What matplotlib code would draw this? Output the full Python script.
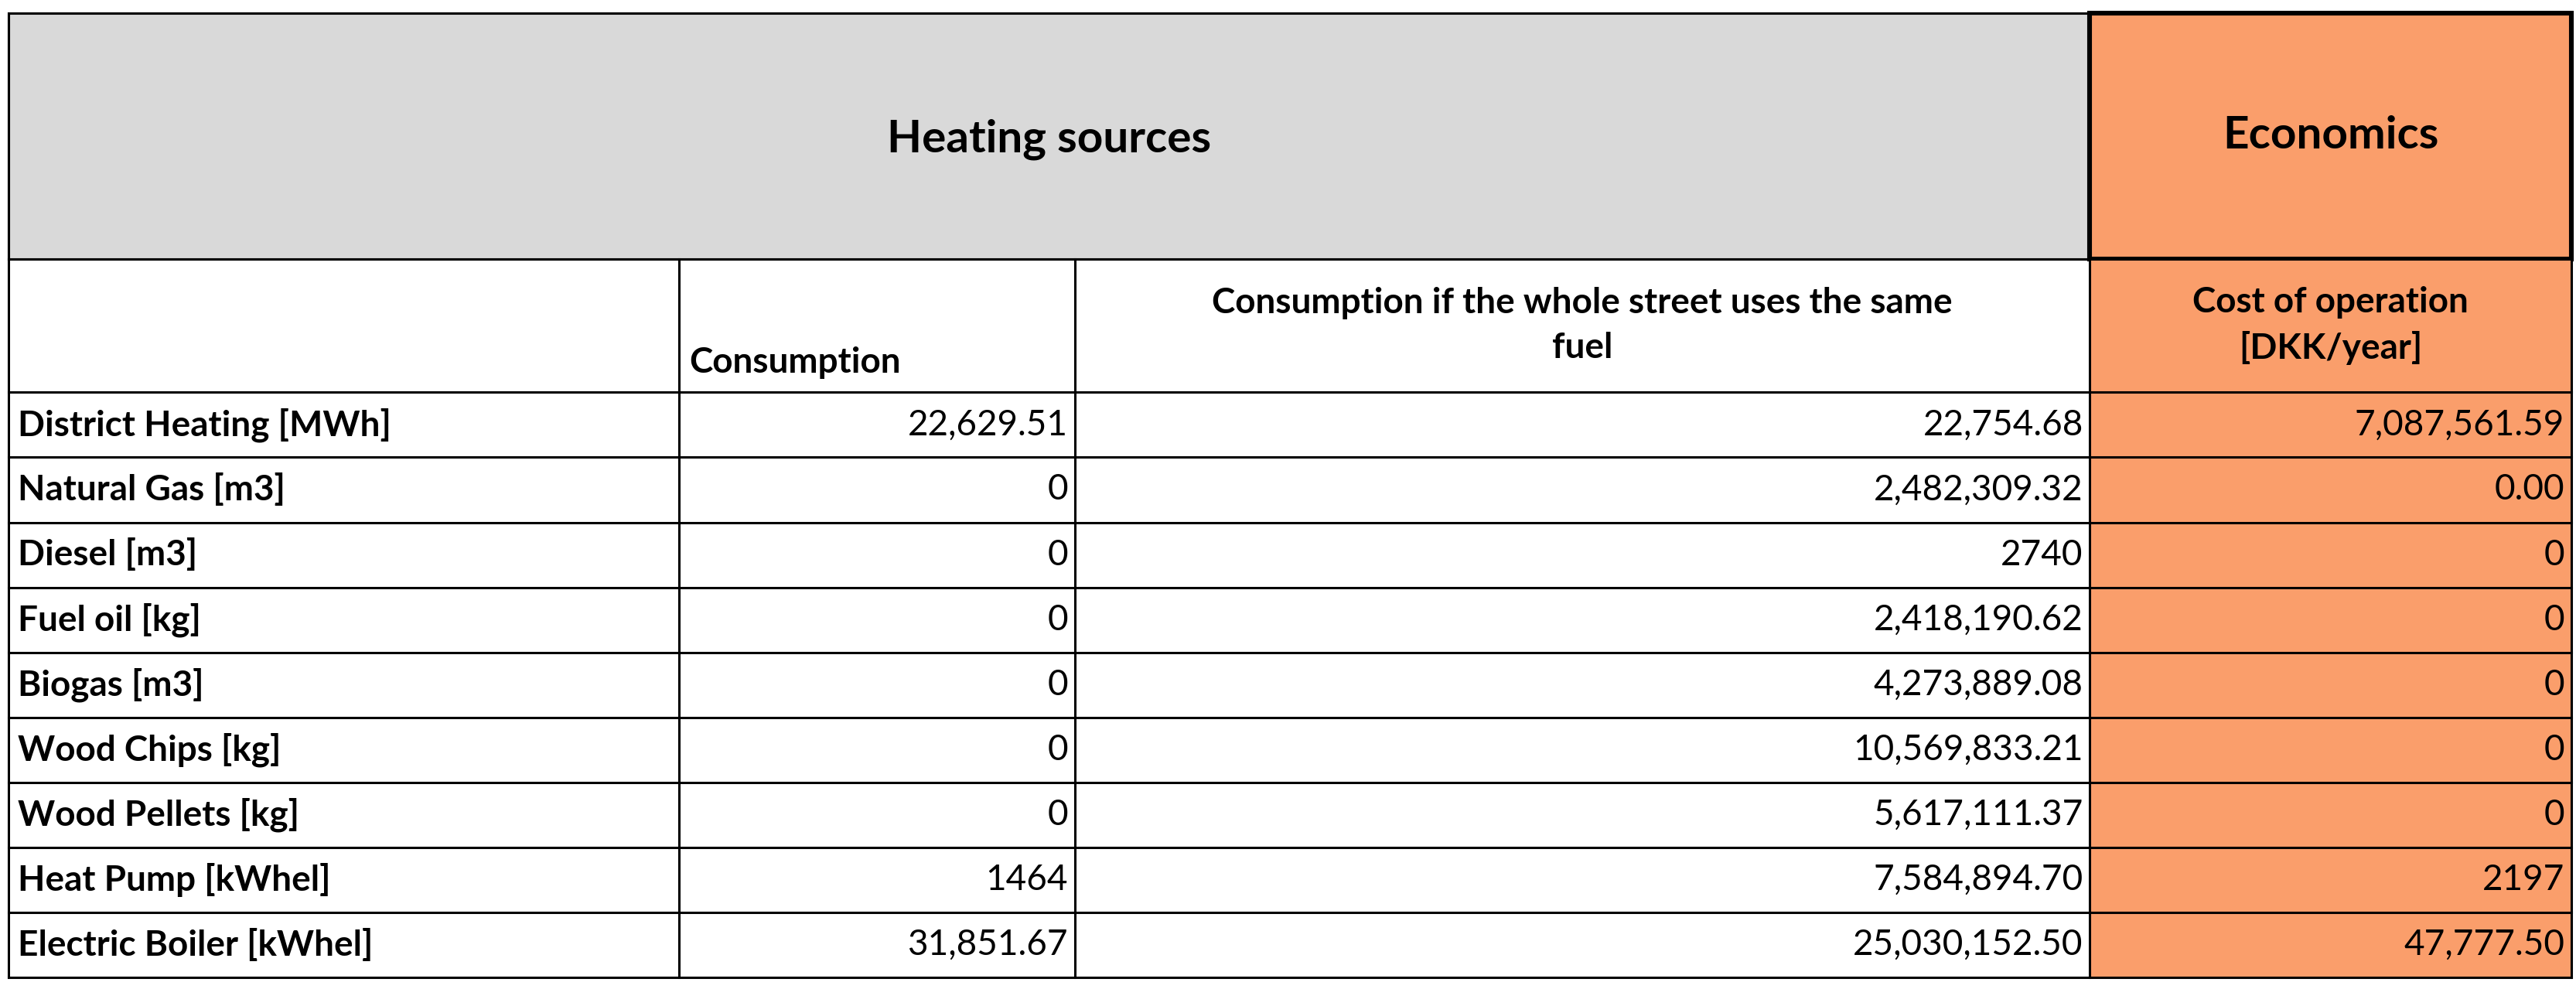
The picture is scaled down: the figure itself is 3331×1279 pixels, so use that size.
import matplotlib
matplotlib.use("Agg")
import matplotlib.pyplot as plt
from matplotlib.patches import Rectangle

plt.rcParams['font.family'] = ['Lato', 'DejaVu Sans']

title_left = "Heating sources"
title_right = "Economics"
col_headers = ["", "Consumption", "Consumption if the whole street uses the same\nfuel", "Cost of operation\n[DKK/year]"]
categories = ["District Heating [MWh]", "Natural Gas [m3]", "Diesel [m3]", "Fuel oil [kg]",
              "Biogas [m3]", "Wood Chips [kg]", "Wood Pellets [kg]", "Heat Pump [kWhel]",
              "Electric Boiler [kWhel]"]
consumption = ["22,629.51", "0", "0", "0", "0", "0", "0", "1464", "31,851.67"]
street = ["22,754.68", "2,482,309.32", "2740", "2,418,190.62", "4,273,889.08",
          "10,569,833.21", "5,617,111.37", "7,584,894.70", "25,030,152.50"]
cost = ["7,087,561.59", "0.00", "0", "0", "0", "0", "0", "2197", "47,777.50"]

fig = plt.figure(figsize=(33.31, 12.79), dpi=100)
ax = fig.add_axes([0, 0, 1, 1])
ax.set_xlim(0, 1563); ax.set_ylim(600, 0); ax.axis('off')

cx = [5, 412, 652, 1268, 1560]
ry = [8, 157, 238] + [238 + (593 - 238) / 9 * (i + 1) for i in range(9)]
gray = "#D9D9D9"; orange = "#FA9E6B"
lw = 2.2
fs = 33; fsh = 42

ax.add_patch(Rectangle((cx[0], ry[0]), cx[3] - cx[0], ry[1] - ry[0], fc=gray, ec='black', lw=lw))
ax.add_patch(Rectangle((cx[3], ry[0]), cx[4] - cx[3], ry[1] - ry[0], fc=orange, ec='black', lw=lw * 2))
ax.add_patch(Rectangle((cx[3], ry[1]), cx[4] - cx[3], ry[-1] - ry[1], fc=orange, ec='none'))
for y in ry[1:]:
    ax.plot([cx[0], cx[4]], [y, y], color='black', lw=lw)
for x in cx:
    ax.plot([x, x], [ry[1], ry[-1]], color='black', lw=lw)
ax.plot([cx[0], cx[0]], [ry[0], ry[1]], color='black', lw=lw)

ax.text((cx[0] + cx[3]) / 2, (ry[0] + ry[1]) / 2 + 2, title_left, ha='center', va='center', fontsize=fsh, weight='bold')
ax.text((cx[3] + cx[4]) / 2, (ry[0] + ry[1]) / 2, title_right, ha='center', va='center', fontsize=fsh, weight='bold')

ax.text(cx[1] + 6, ry[2] - 8, col_headers[1], ha='left', va='bottom', fontsize=fs, weight='bold')
ax.text((cx[2] + cx[3]) / 2, (ry[1] + ry[2]) / 2, col_headers[2], ha='center', va='center', fontsize=fs, weight='bold', linespacing=1.45)
ax.text((cx[3] + cx[4]) / 2, (ry[1] + ry[2]) / 2, col_headers[3], ha='center', va='center', fontsize=fs, weight='bold', linespacing=1.45)

for i in range(9):
    ym = (ry[2 + i] + ry[3 + i]) / 2
    ax.text(cx[0] + 6, ym, categories[i], ha='left', va='center', fontsize=fs, weight='bold')
    ax.text(cx[2] - 4, ym, consumption[i], ha='right', va='center', fontsize=fs)
    ax.text(cx[3] - 4, ym, street[i], ha='right', va='center', fontsize=fs)
    ax.text(cx[4] - 4, ym, cost[i], ha='right', va='center', fontsize=fs)

fig.savefig("out.png", dpi=100, facecolor='white')
